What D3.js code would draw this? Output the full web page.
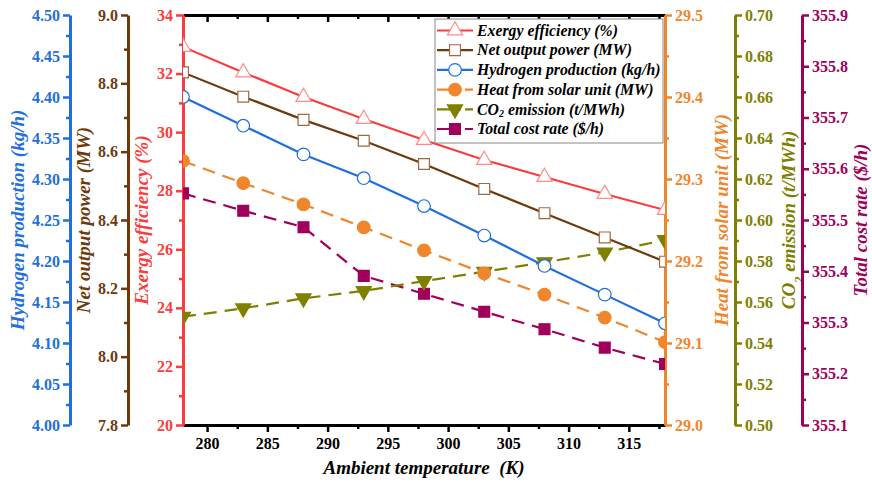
<!DOCTYPE html>
<html>
<head>
<meta charset="utf-8">
<style>
  body { margin: 0; background: #fff; }
  svg { display: block; }
  svg text { font-family: "Liberation Serif", "Times New Roman", Times, serif; }
  .tk { font-weight: bold; font-size: 16px; }
  .ttl { font-weight: bold; font-style: italic; font-size: 19px; white-space: pre; }
  .lg { font-weight: bold; font-style: italic; font-size: 15.8px; }
</style>
</head>
<body>
<div id="container"></div>
<script src="https://cdn.jsdelivr.net/npm/d3@7"></script>
<script>

// ---- data ----
var temps = [278, 283, 288, 293, 298, 303, 308, 313, 318];
var exergy = [32.91, 32.04, 31.20, 30.45, 29.73, 29.05, 28.47, 27.89, 27.34];
var netPower = [8.832, 8.761, 8.693, 8.632, 8.564, 8.491, 8.420, 8.349, 8.278];
var hydrogen = [4.400, 4.365, 4.330, 4.301, 4.267, 4.231, 4.194, 4.159, 4.124];
var solarHeat = [29.322, 29.295, 29.269, 29.241, 29.213, 29.185, 29.159, 29.131, 29.101];
var co2 = [0.5528, 0.5569, 0.5618, 0.5654, 0.5702, 0.5748, 0.5794, 0.5842, 0.5902];
var costRate = [355.552, 355.518, 355.486, 355.391, 355.356, 355.321, 355.287, 355.251, 355.219];

var xTicks = [280, 285, 290, 295, 300, 305, 310, 315];

var W = 872, H = 483;
var pL = 183, pR = 665, pT = 15, pB = 425;

var svg = d3.select("#container").append("svg")
    .attr("width", W).attr("height", H);

var x = d3.scaleLinear().domain([278, 318]).range([pL, pR]);

function yScale(d0, d1) { return d3.scaleLinear().domain([d0, d1]).range([pB, pT]); }

var axes = [
  {key: "h2",   title: "Hydrogen production (kg/h)", color: "#1f6fdc", scale: yScale(4.0, 4.5), pos: 70,  side: "left",  step: 0.05, fmt: ".2f", tx: 18},
  {key: "net",  title: "Net output power (MW)",      color: "#6e3a0c", scale: yScale(7.8, 9.0), pos: 128, side: "left",  step: 0.2,  fmt: ".1f", tx: 84},
  {key: "ex",   title: "Exergy efficiency (%)",      color: "#fa3c3c", scale: yScale(20, 34),   pos: 183, side: "left",  step: 2,    fmt: "d",   tx: 142},
  {key: "heat", title: "Heat from solar unit (MW)",  color: "#f0862c", scale: yScale(29.0, 29.5), pos: 665, side: "right", step: 0.1, fmt: ".1f", tx: 722},
  {key: "co2",  title: "CO2 emission (t/MWh)",       color: "#808000", scale: yScale(0.50, 0.70), pos: 735, side: "right", step: 0.02, fmt: ".2f", tx: 789},
  {key: "cost", title: "Total cost rate ($/h)",      color: "#a0005a", scale: yScale(355.1, 355.9), pos: 802, side: "right", step: 0.1, fmt: ".1f", tx: 861}
];
var axisBy = {};
axes.forEach(function(a) { axisBy[a.key] = a; });

function range(d0, d1, s) {
  var out = [], n = Math.round((d1 - d0) / s);
  for (var i = 0; i <= n; i++) out.push(+(d0 + i * s).toFixed(6));
  return out;
}

// ---- x axes (bottom + top) ----
var xMinor = xTicks.map(function(v) { return v + 2.5; }).filter(function(v) { return v <= 318; });

var bx = svg.append("g").attr("transform", "translate(0," + pB + ")");
bx.call(d3.axisBottom(x).tickValues(xTicks).tickSize(7).tickSizeOuter(0).tickPadding(6));
bx.append("g").call(d3.axisBottom(x).tickValues(xMinor).tickSize(4).tickFormat(""))
  .select(".domain").remove();

var tx = svg.append("g").attr("transform", "translate(0," + pT + ")");
tx.call(d3.axisBottom(x).tickValues(xTicks).tickSize(7).tickSizeOuter(0).tickFormat(""));
tx.append("g").call(d3.axisBottom(x).tickValues(xMinor).tickSize(4).tickFormat(""))
  .select(".domain").remove();

[bx, tx].forEach(function(g) {
  g.attr("font-size", null).attr("font-family", null);
  g.selectAll(".domain").attr("stroke", "#000").attr("stroke-width", 3);
  g.selectAll(".tick line").attr("stroke", "#000").attr("stroke-width", 2.5);
  g.selectAll(".tick text").attr("class", "tk").attr("fill", "#000");
});

svg.append("text").attr("class", "ttl")
    .attr("x", (pL + pR) / 2).attr("y", 474)
    .attr("text-anchor", "middle")
    .text("Ambient temperature  (K)");

// ---- y axes ----
axes.forEach(function(a) {
  var d = a.scale.domain();
  var major = range(d[0], d[1], a.step);
  var minor = range(d[0] + a.step / 2, d[1], a.step).filter(function(v) { return v < d[1]; });
  var gen = a.side === "left" ? d3.axisLeft : d3.axisRight;
  var g = svg.append("g").attr("transform", "translate(" + a.pos + ",0)");
  g.call(gen(a.scale).tickValues(major).tickSize(7).tickSizeOuter(0).tickPadding(3)
      .tickFormat(d3.format(a.fmt)));
  g.attr("font-size", null).attr("font-family", null);
  var gm = g.append("g").call(gen(a.scale).tickValues(minor).tickSize(4).tickFormat(""));
  gm.select(".domain").remove();
  g.selectAll(".domain").attr("stroke", a.color).attr("stroke-width", 3);
  g.selectAll(".tick line").attr("stroke", a.color).attr("stroke-width", 2.5);
  g.selectAll(".tick text").attr("class", "tk").attr("fill", a.color);

  var t = svg.append("text").attr("class", "ttl")
      .attr("transform", "translate(" + a.tx + "," + (pT + pB) / 2 + ") rotate(-90)")
      .attr("text-anchor", "middle").attr("dy", "0.32em")
      .attr("fill", a.color);
  if (a.key === "co2") {
    t.append("tspan").text("CO");
    t.append("tspan").attr("baseline-shift", "sub").attr("font-size", "13px").text("2");
    t.append("tspan").text(" emission (t/MWh)");
  } else {
    t.text(a.title);
  }
});

// ---- series ----
var series = [
  {name: "Exergy efficiency (%)",        axis: "ex",   values: exergy,    dash: null,   sym: "triUp",   fill: "#fff", stroke: "#ff8c8c"},
  {name: "Net output power (MW)",        axis: "net",  values: netPower,  dash: null,   sym: "square",  fill: "#fff", stroke: "#9c6a44"},
  {name: "Hydrogen production (kg/h)",   axis: "h2",   values: hydrogen,  dash: null,   sym: "circle",  fill: "#fff", stroke: "#1f6fdc"},
  {name: "Heat from solar unit (MW)",    axis: "heat", values: solarHeat, dash: "13,8", sym: "circle",  fill: "#f0862c", stroke: "#f0862c"},
  {name: "CO2 emission (t/MWh)",         axis: "co2",  values: co2,       dash: "13,8", sym: "triDown", fill: "#808000", stroke: "#808000"},
  {name: "Total cost rate ($/h)",        axis: "cost", values: costRate,  dash: "13,8", sym: "square",  fill: "#a0005a", stroke: "#a0005a"}
];

function symPath(s) {
  if (s === "triUp") return d3.symbol().type(d3.symbolTriangle).size(100)();
  if (s === "triDown") return d3.symbol().type(d3.symbolTriangle).size(100)();
  if (s === "square") return d3.symbol().type(d3.symbolSquare).size(118)();
  return d3.symbol().type(d3.symbolCircle).size(125)();
}

svg.append("clipPath").attr("id", "plotclip")
  .append("rect").attr("x", pL).attr("y", pT).attr("width", pR - pL).attr("height", pB - pT);

var plot = svg.append("g").attr("clip-path", "url(#plotclip)");

series.slice().reverse().forEach(function(s) {
  var a = axisBy[s.axis];
  var pts = temps.map(function(t, i) { return [x(t), a.scale(s.values[i])]; });
  plot.append("path")
      .attr("d", d3.line()(pts))
      .attr("fill", "none")
      .attr("stroke", a.color)
      .attr("stroke-width", 2.2)
      .attr("stroke-dasharray", s.dash);
  plot.selectAll(null).data(pts).enter().append("path")
      .attr("d", symPath(s.sym))
      .attr("transform", function(p) { return "translate(" + p[0] + "," + p[1] + ")" + (s.sym === "triDown" ? " rotate(180)" : ""); })
      .attr("fill", s.fill)
      .attr("stroke", s.stroke)
      .attr("stroke-width", 1.2);
});

// ---- legend ----
var lg = svg.append("g");
lg.append("rect").attr("x", 435).attr("y", 19).attr("width", 228).attr("height", 124)
    .attr("fill", "#fff").attr("stroke", "#888").attr("stroke-width", 1);

series.forEach(function(s, i) {
  var a = axisBy[s.axis];
  var yy = 30.5 + i * 19.7;
  lg.append("line").attr("x1", 437).attr("x2", 473).attr("y1", yy).attr("y2", yy)
      .attr("stroke", a.color).attr("stroke-width", 2.2)
      .attr("stroke-dasharray", s.dash ? "24,4,8" : null);
  lg.append("path").attr("d", symPath(s.sym))
      .attr("transform", "translate(455," + yy + ")" + (s.sym === "triDown" ? " rotate(180)" : ""))
      .attr("fill", s.fill).attr("stroke", s.stroke).attr("stroke-width", 1.2);
  var t = lg.append("text").attr("class", "lg").attr("x", 477).attr("y", yy).attr("dy", "0.33em").attr("fill", "#000");
  if (s.axis === "co2") {
    t.append("tspan").text("CO");
    t.append("tspan").attr("baseline-shift", "-2").attr("font-size", "10px").text("2");
    t.append("tspan").attr("baseline-shift", "0").text(" emission (t/MWh)");
  } else {
    t.text(s.name);
  }
});

</script>
</body>
</html>
